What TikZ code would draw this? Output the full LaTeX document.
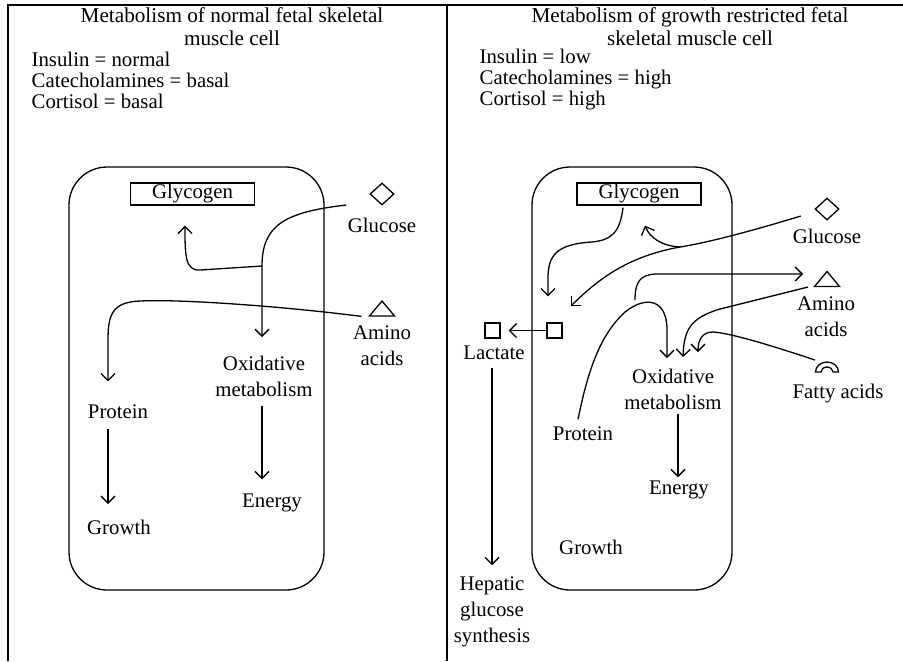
\documentclass[tikz,border=0pt]{standalone}
\usepackage{fontspec}
\setmainfont{Liberation Serif}
\usetikzlibrary{arrows.meta,shapes.geometric,calc}
\newcommand{\lbfont}{\fontsize{10.4}{13}\selectfont}

\begin{document}
\begin{tikzpicture}[
  x=0.5pt, y=-0.5pt,
  line width=0.65pt,
  every node/.style={font=\lbfont, inner sep=0pt},
  lbl/.style={align=center},
  heading/.style={align=center, font=\fontsize{10.6}{11.5}\selectfont},
  hormone/.style={align=left, anchor=west, font=\fontsize{10.4}{10.5}\selectfont},
  cell/.style={draw, rounded corners=19pt, minimum width=#1, minimum height=211.5pt},
  store/.style={draw, minimum width=62pt, minimum height=11pt},
  sugar/.style={draw, diamond, minimum width=12pt, minimum height=11pt},
  lacbox/.style={draw, minimum size=7.5pt},
  arrow/.style={-{Straight Barb[length=3.5pt,width=7pt]}},
  amino/.pic={\draw (-12.5,7.5) -- (12.5,7.5) -- (0,-7.5) -- cycle;},
  fatty/.pic={\draw (-5.75pt,0pt) arc[start angle=180, end angle=0, x radius=5.75pt, y radius=5pt]
    -- (3pt,0pt) arc[start angle=0, end angle=180, x radius=3pt, y radius=2.5pt] -- cycle;}
]
\useasboundingbox (0,0) rectangle (903,661);
\draw (8,661) -- (8,5) -- (903,5);
\draw (447,5) -- (447,661);

\node[heading] (titleL) at (232,27) {Metabolism of normal fetal skeletal\\muscle cell};
\node[hormone] (hormL) at (31,80) {Insulin = normal\\Catecholamines = basal\\Cortisol = basal};
\node[heading] (titleR) at (690,27) {Metabolism of growth restricted fetal\\skeletal muscle cell};
\node[hormone] (hormR) at (479,80) {Insulin = low\\Catecholamines = high\\Cortisol = high};

\node[cell=127.5pt] (cellL) at (196.5,378.5) {};
\node[store] (glyL) at (192.5,194) {Glycogen};
\node[sugar] (gluSymL) at (382,194) {};
\node (gluL) at (382,225) {Glucose};
\coordinate (amiSymL) at (382,308.5);
\pic at (amiSymL) {amino};
\node[lbl] (amiL) at (382,346) {Amino\\acids};
\node[lbl] (oxL) at (264,376) {Oxidative\\metabolism};
\node (protL) at (118,412) {Protein};
\node (growL) at (119,527) {Growth};
\node (enL) at (272,503) {Energy};

\coordinate (forkL) at (262,266);
\draw[arrow] ($(gluL.north west)+(-1,-12)$) .. controls (285,212) and (262,225) .. (forkL) -- ($(forkL |- oxL.north)+(0,-18)$);
\draw[arrow] (forkL) -- (200,270) .. controls (185,271) and (185,255) .. ($(glyL.south)+(-7.5,20)$);
\draw[arrow] ($(amiL.north west)+(9,-9)$) .. controls (280,306) and (180,299) .. (140,301) .. controls (112,302) and (108,315) .. (108,340) -- ($(protL.north)+(-10,-23)$);
\draw[arrow] ($(protL.south)+(-10,9)$) -- ($(growL.north)+(-11,-15)$);
\draw[arrow] ($(oxL.south)+(-2,9)$) -- ($(enL.north)+(-10,-14)$);

\node[cell=100pt] (cellR) at (632,378.5) {};
\node[store] (glyR) at (639,194) {Glycogen};
\node[sugar] (gluSymR) at (827,209) {};
\node (gluR) at (827,236) {Glucose};
\coordinate (amiSymR) at (827,279);
\pic at (amiSymR) {amino};
\node[lbl] (amiR) at (826,317) {Amino\\acids};
\coordinate (fatSymR) at (827,372);
\pic at (fatSymR) {fatty};
\node (fatR) at (838,394) {Fatty acids};
\node[lacbox] (lacOut) at (492.5,330.5) {};
\node[lacbox] (lacIn) at (554.5,330.5) {};
\node (lacR) at (494,353) {Lactate};
\node[lbl] (hepR) at (492,612) {Hepatic\\glucose\\synthesis};
\node (protR) at (583,434) {Protein};
\node[lbl] (oxR) at (673,389) {Oxidative\\metabolism};
\node (enR) at (679,490) {Energy};
\node (growR) at (591,547) {Growth};

\coordinate (forkR) at (680,247);
\coordinate (recycR) at (635,300);
\draw[arrow] ($(glyR.south)+(-16,2)$) .. controls (620,232) and (612,240) .. (592,242) .. controls (556,244) and (548,256) .. (548,278) -- ($(lacIn.north)+(-6.5,-26)$);
\draw[arrow] ($(gluR.north west)+(8.5,-12)$) .. controls (745,233) and (705,243) .. (forkR) .. controls (630,256) and (600,277) .. ($(lacIn.north east)+(8,-16)$);
\draw[arrow] (forkR) .. controls (662,246) and (650,238) .. ($(glyR.south)+(6,20)$);
\draw[arrow] (recycR) .. controls (635,282) and (640,275) .. (655,274) -- ($(amiSymR)+(-24,-5)$);
\draw[arrow] ($(protR.north)+(-5,-7)$) .. controls (588,370) and (600,335) .. (625,312) .. controls (645,296) and (667,298) .. (667,330) -- ($(oxR.north)+(-6,-10)$);
\draw[arrow] ($(amiSymR)+(-19,8)$) -- (720,309) .. controls (690,318) and (684,330) .. ($(oxR.north)+(10,-11)$);
\draw[arrow] ($(fatSymR)+(-12,-12)$) .. controls (770,345) and (730,333) .. (713,332) .. controls (702,332) and (698,340) .. ($(oxR.north)+(25,-16)$);
\draw[arrow, shorten >=4pt] (lacIn.west) -- (lacOut.east);
\draw[arrow] ($(lacR.south)+(-2,7)$) -- ($(hepR.north)+(0,-11)$);
\draw[arrow] ($(oxR.south)+(5,4)$) -- ($(enR.north)+(-1,-3)$);
\end{tikzpicture}
\end{document}
